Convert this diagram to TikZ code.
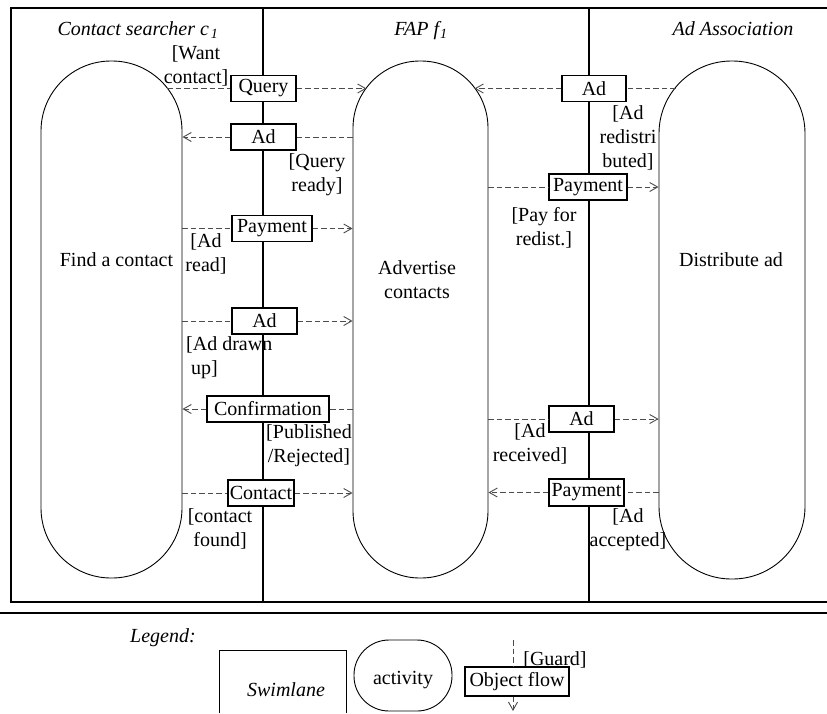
\documentclass[tikz,border=0pt]{standalone}
\usepackage{fontspec}
\setmainfont{Liberation Serif}
\usetikzlibrary{arrows.meta,calc}
\begin{document}
\begin{tikzpicture}[x=1pt,y=-1pt,
  every node/.style={font=\fontsize{20}{24}\selectfont, inner sep=0pt},
  frameline/.style={line width=1.1pt},
  act/.style={draw=black, line width=0.9pt, rounded corners=#1},
  obj/.style={draw, fill=white, line width=1.2pt, minimum height=26pt},
  flow/.style={draw=black!70, dash pattern=on 5.5pt off 3pt, line width=0.9pt},
  flowarrow/.style={flow, -{Straight Barb[length=8pt,width=9pt,line width=0.9pt]}},
  guard/.style={align=center},
  title/.style={font=\fontsize{20}{24}\selectfont\itshape, anchor=base},
]
\useasboundingbox (0,0) rectangle (827,713);
% frame and lanes
\draw[frameline] (827,8) -- (11,8) -- (11,602) -- (827,602);
\draw[frameline] (263,8) -- (263,602);
\draw[frameline] (589,8) -- (589,602);
\draw[line width=2pt] (0,613) -- (827,613);
% titles
\node[title] (t1) at (138,35) {Contact searcher c\kern2pt\textsubscript{1}};
\node[title] (t2) at (421,35) {FAP f\kern1pt\textsubscript{1}};
\node[title] (t3) at (733,35) {Ad Association};
% activities
\node[act=70pt, minimum width=141pt, minimum height=517pt] (a1) at (111.5,319.5) {};
\node[act=67pt, minimum width=135pt, minimum height=517pt] (a2) at (420.5,319.5) {};
\node[act=72.5pt, minimum width=146pt, minimum height=518pt] (a3) at (732,320) {};
\node (at1) at (116.5,260) {Find a contact};
\node[align=center] (at2) at (417,280) {Advertise\\contacts};
\node (at3) at (731,260) {Distribute ad};
% object boxes
\node[obj, minimum width=65pt] (q1) at (263.5,88.5) {Query};
\node[obj, minimum width=65pt] (q2) at (263.5,137) {Ad};
\node[obj, minimum width=64pt] (q3) at (594,88.5) {Ad};
\node[obj, minimum width=78pt] (q4) at (588,187) {Payment};
\node[obj, minimum width=80pt] (q5) at (272,228.5) {Payment};
\node[obj, minimum width=65pt] (q6) at (264.5,321) {Ad};
\node[obj, minimum width=122pt] (q7) at (268,409) {Confirmation};
\node[obj, minimum width=66pt] (q8) at (261,493) {Contact};
\node[obj, minimum width=65pt] (q9) at (581.5,419) {Ad};
\node[obj, minimum width=75pt, minimum height=27pt] (q10) at (586.5,492.5) {Payment};
% arc end points
\coordinate (s1) at (167,88.5);
\coordinate (e1) at (366.5,88.5);
\coordinate (s3) at (675.5,88.5);
\coordinate (e3) at (474.5,88.5);
% flows
\draw[flowarrow] (s1) -- (q1) -- (e1);
\draw[flowarrow] (a2.west |- q2) -- (q2) -- (a1.east |- q2);
\draw[flowarrow] (s3) -- (q3) -- (e3);
\draw[flowarrow] (a2.east |- q4) -- (q4) -- (a3.west |- q4);
\draw[flowarrow] (a1.east |- q5) -- (q5) -- (a2.west |- q5);
\draw[flowarrow] (a1.east |- q6) -- (q6) -- (a2.west |- q6);
\draw[flowarrow] (a2.west |- q7) -- (q7) -- (a1.east |- q7);
\draw[flowarrow] (a1.east |- q8) -- (q8) -- (a2.west |- q8);
\draw[flowarrow] (a2.east |- q9) -- (q9) -- (a3.west |- q9);
\draw[flowarrow] (a3.west |- q10) -- (q10) -- (a2.east |- q10);
% guards
\node[guard] (g1) at (196,66) {[Want\\contact]};
\node[guard] (g2) at (317,175) {[Query\\ready]};
\node[guard] (g3) at (628,138) {[Ad\\redistri\\buted]};
\node[guard] (g4) at (544,228) {[Pay for\\redist.]};
\node[guard] (g5) at (206,254) {[Ad\\read]};
\node[align=left, anchor=west] (g6) at (186,358) {[Ad drawn\\\hspace*{5pt}up]};
\node[guard] (g7) at (309,446) {[Published\\/Rejected]};
\node[guard] (g8) at (220,529) {[contact\\found]};
\node[guard] (g9) at (530,444) {[Ad\\received]};
\node[guard] (g10) at (628,530) {[Ad\\accepted]};
% legend
\node (leg) at (163,638) {\itshape Legend:};
\draw[line width=0.9pt] (219,713) -- (219,650) -- (346,650) -- (346,713);
\node (sw) at (286,690) {\itshape Swimlane};
\node[act=35pt, minimum width=98pt, minimum height=71pt] (la) at (403,675.5) {};
\node (lat) at (403,680) {activity};
\node[obj, minimum width=104pt, minimum height=29pt] (lo) at (517,681.5) {Object flow};
\coordinate (lg1) at (513,640);
\coordinate (lg2) at (513,711);
\draw[flow] (lg1) -- (lg1 |- lo.north);
\draw[flowarrow] (lg1 |- lo.south) -- (lg2);
\node (lgd) at (555,660) {[Guard]};
\end{tikzpicture}
\end{document}
